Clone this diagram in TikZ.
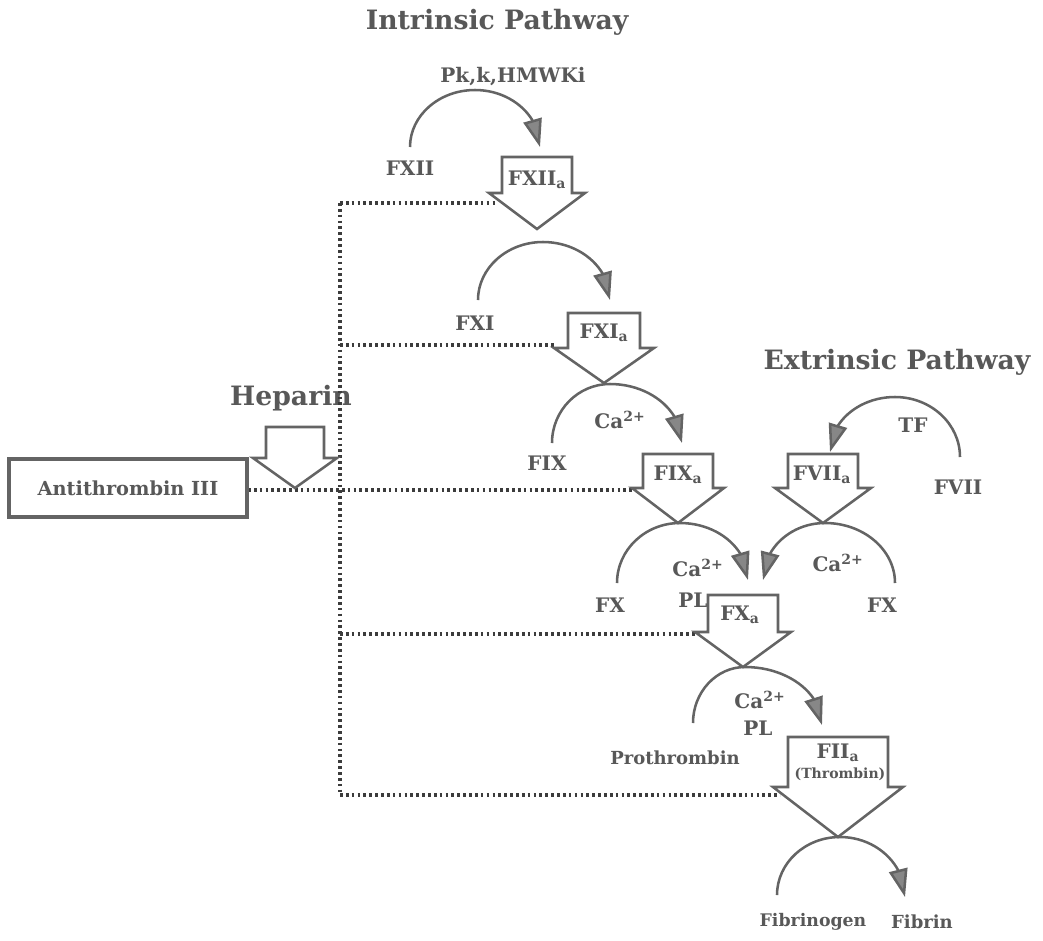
\documentclass[tikz,border=0pt]{standalone}
\usepackage{fontspec}
\setmainfont{DejaVu Serif}
\usetikzlibrary{arrows.meta,bending}
\definecolor{txt}{RGB}{88,88,88}
\definecolor{ln}{RGB}{100,100,100}
\definecolor{dt}{RGB}{60,60,60}
\definecolor{hd}{RGB}{135,135,135}
\newcommand\sbs[1]{\textsubscript{#1}}
\newcommand\sps[1]{\textsuperscript{#1}}
% block arrow: name, cx, top y, wing y, tip y, rect half width, head half width
\newcommand\blockarr[7]{%
  \draw[blockline] (#2-#6,#3) -- (#2+#6,#3) -- (#2+#6,#4) -- (#2+#7,#4) -- (#2,#5)
     -- (#2-#7,#4) -- (#2-#6,#4) -- cycle;
  \coordinate (#1) at (#2,#5);}
% reaction arc: start, top, end
\newcommand\reac[6]{%
  \draw[conn] (#1,#2) .. controls +(0,{-0.552*(#2-#4)}) and +({-0.552*(#3-#1)},0) .. (#3,#4)
     .. controls +({0.552*(#5-#3)},0) and +(0,{-0.552*(#6-#4)}) .. (#5,#6);}
\begin{document}
\begin{tikzpicture}[x=0.75pt,y=-0.75pt,
  blockline/.style={draw=ln,line width=1.9pt,fill=white,line join=miter},
  conn/.style={draw=ln,line width=1.9pt,-{Triangle[length=21pt,width=14pt,flex,fill=hd]}},
  dots/.style={draw=dt,line width=2.4pt,dash pattern=on 2pt off 2.4pt},
  lab/.style={text=txt,inner sep=0pt,font=\fontsize{15}{16}\selectfont\bfseries},
  small/.style={text=txt,inner sep=0pt,font=\fontsize{10.5}{11}\selectfont\bfseries},
  title/.style={text=txt,inner sep=0pt,font=\fontsize{20}{21}\selectfont\bfseries}]
\path[use as bounding box] (0,0) rectangle (1043,940);

% titles
\node[title] (intr) at (497,22) {Intrinsic Pathway};
\node[title] (extr) at (897,362) {Extrinsic Pathway};
\node[title] (hep) at (291,398) {Heparin};

% dotted inhibition lines
\coordinate (v1) at (340,203);
\coordinate (v2) at (340,795);
\draw[dots] (v1) -- (v2);
\draw[dots] (v1) -- (497,203);
\draw[dots] (340,345) -- (556,345);
\draw[dots] (248,490) -- (636,490);
\draw[dots] (340,634) -- (697,634);
\draw[dots] (v2) -- (780,795);

% antithrombin box
\node[draw=ln,line width=3pt,inner sep=0pt,
      minimum width=178pt,minimum height=43pt,text=txt,
      font=\fontsize{14.5}{15}\selectfont\bfseries] (at3) at (128,488) {Antithrombin III};

% block arrows
\blockarr{hepT}{295}{427}{458}{488}{29}{42}
\blockarr{f12aT}{537}{157}{193}{229}{35}{48}
\blockarr{f11aT}{604}{313}{348}{383}{36}{50}
\blockarr{f9aT}{678}{454}{488}{523}{35}{46}
\blockarr{f7aT}{823}{454}{488}{523}{35}{48}
\blockarr{f10aT}{743}{595}{632}{667}{35}{48}
\blockarr{f2aT}{838}{737}{787}{837}{50}{65}

% block labels
\node[lab] (f12a) at (537,180) {FXII\sbs{a}};
\node[lab] (f11a) at (604,333) {FXI\sbs{a}};
\node[lab] (f9a) at (678,475) {FIX\sbs{a}};
\node[lab] (f7a) at (822,475) {FVII\sbs{a}};
\node[lab] (f10a) at (740,615) {FX\sbs{a}};
\node[lab] (f2a) at (838,753) {FII\sbs{a}};
\node[small] (thr) at (840,774) {(Thrombin)};

% reaction arcs
\reac{410}{147}{475}{90}{540}{147}
\reac{478}{300}{543}{242}{610}{300}
\reac{552}{443}{610}{384}{682}{443}
\reac{617}{583}{680}{523}{748}{580}
\reac{895}{583}{825}{523}{763}{580}
\reac{960}{457}{895}{397}{830}{452}
\reac{693}{723}{745}{667}{822}{725}
\reac{777}{895}{840}{837}{905}{897}

% labels
\node[lab] (pk) at (513,77) {Pk,k,HMWKi};
\node[lab] (f12) at (410,168) {FXII};
\node[lab] (f11) at (475,323) {FXI};
\node[lab] (ca1) at (620,420) {Ca\sps{2+}};
\node[lab] (f9) at (547,463) {FIX};
\node[lab] (tf) at (913,425) {TF};
\node[lab] (f7) at (958,487) {FVII};
\node[lab] (ca2) at (698,568) {Ca\sps{2+}};
\node[lab] (pl1) at (693,600) {PL};
\node[lab] (ca3) at (838,563) {Ca\sps{2+}};
\node[lab] (f10l) at (610,605) {FX};
\node[lab] (f10r) at (882,605) {FX};
\node[lab] (ca4) at (760,700) {Ca\sps{2+}};
\node[lab] (pl2) at (758,728) {PL};
\node[lab,font=\fontsize{13.5}{14}\selectfont\bfseries] (pro) at (675,758) {Prothrombin};
\node[lab,font=\fontsize{13}{14}\selectfont\bfseries] (fbg) at (813,922) {Fibrinogen};
\node[lab,font=\fontsize{13.5}{14}\selectfont\bfseries] (fbn) at (922,922) {Fibrin};
\end{tikzpicture}
\end{document}
